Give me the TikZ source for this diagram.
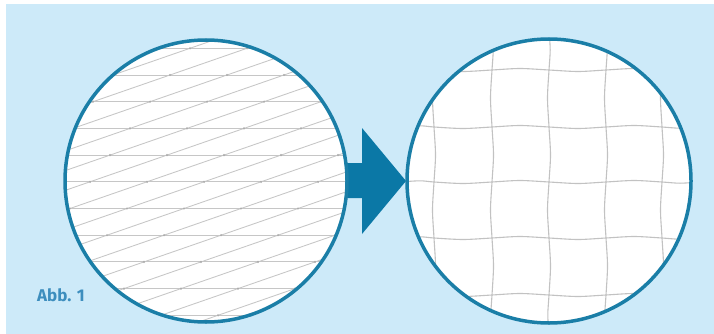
\documentclass[tikz,border=0pt]{standalone}
\usepackage{fontspec}
\setmainfont{Fira Sans}
\definecolor{bg}{HTML}{CDEAF9}
\definecolor{ringc}{HTML}{1A7EA7}
\definecolor{arrowc}{HTML}{0B78A6}
\definecolor{txtc}{HTML}{3D8EBE}
\definecolor{meshc}{HTML}{C6C6C6}
\definecolor{knotc}{HTML}{ADADAD}
\definecolor{gridc}{HTML}{C2C2C2}
\tikzset{
  ring/.style={circle, draw=ringc, line width=3.5pt, inner sep=0pt},
  meshline/.style={draw=meshc, line width=0.85pt},
  gridline/.style={draw=gridc, line width=1.1pt},
  arrowshape/.style={fill=arrowc},
}
\begin{document}
\begin{tikzpicture}[x=1pt,y=-1pt]
\useasboundingbox (0,0) rectangle (714,334);
\fill[white] (0,0) rectangle (714,334);
\fill[bg] (6,4) rectangle (714,334);
% arrow
\fill[arrowshape] (340,163) -- (362,163) -- (362,128) -- (406,181) -- (362,234) -- (362,198) -- (340,198) -- cycle;
% left circle
\fill[white] (206,181) circle (141);
\begin{scope}
  \clip (206,181) circle (141);
  \foreach \r in {-2,...,10} {
    \draw[meshline] (55,{75+26.7*\r}) -- (360,{75+26.7*\r});
  }
  \foreach \k in {-4,...,16} {
    \draw[meshline] ({170+57*\k+154},{75-53.4}) -- ({170+57*\k-847},{75+293.7});
  }
  \foreach \r in {-1,...,9} {
    \foreach \k in {-2,...,6} {
      \fill[knotc] ({170-20*\r+57*\k},{75+26.7*\r}) circle (1.2);
    }
  }
\end{scope}
\node[ring, minimum size=282pt] (L) at (206,181) {};
% right circle
\fill[white] (549,181) circle (142);
\begin{scope}
  \clip (549,181) circle (142);
  \foreach \x in {434,492,549,606,662} {
    \draw[gridline] plot[smooth] coordinates {(\x,30) ({\x+1.2},50) (\x,70) ({\x-1.5},98) (\x,127) ({\x+1.5},155) (\x,182) ({\x-1.5},210) (\x,238) ({\x+1.5},266) (\x,295) ({\x-1.2},315) (\x,335)};
  }
  \foreach \y in {70,127,182,238,295} {
    \draw[gridline] plot[smooth] coordinates {(400,\y) (420,{\y-1.2}) (434,\y) (463,{\y+1.5}) (492,\y) (520,{\y-1.5}) (549,\y) (578,{\y+1.5}) (606,\y) (634,{\y-1.5}) (662,\y) (680,{\y+1.2}) (700,\y)};
  }
\end{scope}
\node[ring, minimum size=284pt] (R) at (549,181) {};
% caption
\node[anchor=west, text=txtc, inner sep=0pt, font=\fontsize{17}{18}\selectfont\bfseries] (cap) at (37,295) {Abb. 1};
\end{tikzpicture}
\end{document}
